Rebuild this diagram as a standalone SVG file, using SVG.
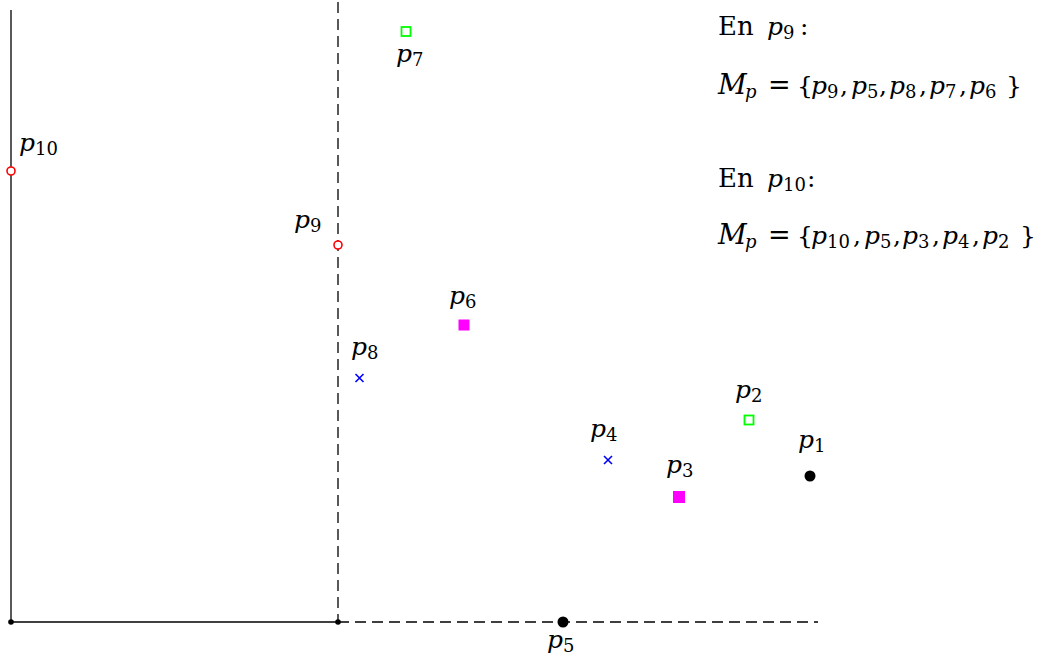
<svg xmlns="http://www.w3.org/2000/svg" width="1051" height="663" viewBox="0 0 1051 663">
<style>
.t{font-family:"DejaVu Serif","Liberation Serif",serif;font-size:25px;fill:#000}
.i{font-style:italic}
.s{font-size:18px;font-style:normal}
.si{font-size:18px;font-style:italic}
.m{font-size:28px;font-style:italic}
.eq{font-size:27px;font-style:normal}
.en{font-size:26px}
.solid{stroke:#000;stroke-width:1.3;fill:none}
.dash{stroke:#000;stroke-width:1.3;fill:none;stroke-dasharray:11 6}
.ro{fill:#fff;stroke:#f00;stroke-width:1.6}
.go{fill:none;stroke:#0f0;stroke-width:1.8}
.mg{fill:#f0f}
.bx{stroke:#00f;stroke-width:1.6}
</style>
<rect width="1051" height="663" fill="#fff"/>
<g id="connectors">
<line class="solid" x1="11" y1="10" x2="11" y2="622"/>
<line class="solid" x1="11" y1="622" x2="338" y2="622"/>
<line class="dash" x1="338" y1="622" x2="818" y2="622"/>
<line class="dash" x1="338" y1="2" x2="338" y2="622"/>
<circle cx="11" cy="622" r="2.8" fill="#000"/>
<circle cx="338" cy="622" r="2.8" fill="#000"/>
</g>
<g id="p10"><circle class="ro" cx="11" cy="171" r="4"/><text class="t i" x="19" y="151">p<tspan class="s" dy="4">10</tspan></text></g>
<g id="p9"><circle class="ro" cx="338" cy="245" r="4"/><text class="t i" x="294" y="228">p<tspan class="s" dy="4">9</tspan></text></g>
<g id="p7"><rect class="go" x="401.5" y="27" width="9" height="9"/><text class="t i" x="396" y="62">p<tspan class="s" dy="4">7</tspan></text></g>
<g id="p6"><rect class="mg" x="458.5" y="319.5" width="11" height="11"/><text class="t i" x="449" y="304">p<tspan class="s" dy="4">6</tspan></text></g>
<g id="p8"><path class="bx" d="M355.5 374L363.5 382M363.5 374L355.5 382"/><text class="t i" x="351" y="355">p<tspan class="s" dy="4">8</tspan></text></g>
<g id="p4"><path class="bx" d="M604 456L612 464M612 456L604 464"/><text class="t i" x="590" y="437">p<tspan class="s" dy="4">4</tspan></text></g>
<g id="p3"><rect class="mg" x="673" y="491" width="12" height="12"/><text class="t i" x="666" y="473">p<tspan class="s" dy="4">3</tspan></text></g>
<g id="p2"><rect class="go" x="744.5" y="415.5" width="9" height="9"/><text class="t i" x="735" y="398">p<tspan class="s" dy="4">2</tspan></text></g>
<g id="p1"><circle cx="810" cy="476" r="5.5" fill="#000"/><text class="t i" x="798" y="448">p<tspan class="s" dy="4">1</tspan></text></g>
<g id="p5"><circle cx="563" cy="622" r="5.5" fill="#000"/><text class="t i" x="547" y="648">p<tspan class="s" dy="4">5</tspan></text></g>
<g id="text1">
<text class="t" y="35"><tspan class="en" x="718">En</tspan><tspan class="i" x="767">p</tspan><tspan class="s" x="783" y="39">9</tspan><tspan x="800" y="35">:</tspan></text>
<text class="t" y="94"><tspan class="m" x="718">M</tspan><tspan class="si" x="745" y="98">p</tspan><tspan class="eq" x="768" y="94">=</tspan><tspan x="797" y="94">{</tspan><tspan class="i" x="811">p</tspan><tspan class="s" x="827" y="98">9</tspan><tspan x="840" y="94">,</tspan><tspan class="i" x="851">p</tspan><tspan class="s" x="867" y="98">5</tspan><tspan x="879" y="94">,</tspan><tspan class="i" x="889">p</tspan><tspan class="s" x="905" y="98">8</tspan><tspan x="919" y="94">,</tspan><tspan class="i" x="929">p</tspan><tspan class="s" x="945" y="98">7</tspan><tspan x="959" y="94">,</tspan><tspan class="i" x="969">p</tspan><tspan class="s" x="985" y="98">6</tspan><tspan x="1006" y="94">}</tspan></text>
</g>
<g id="text2">
<text class="t" y="187"><tspan class="en" x="718">En</tspan><tspan class="i" x="767">p</tspan><tspan class="s" x="783" y="191">10</tspan><tspan x="807" y="187">:</tspan></text>
<text class="t" y="244"><tspan class="m" x="718">M</tspan><tspan class="si" x="745" y="248">p</tspan><tspan class="eq" x="768" y="244">=</tspan><tspan x="797" y="244">{</tspan><tspan class="i" x="811">p</tspan><tspan class="s" x="827" y="248">10</tspan><tspan x="853" y="244">,</tspan><tspan class="i" x="864">p</tspan><tspan class="s" x="880" y="248">5</tspan><tspan x="893" y="244">,</tspan><tspan class="i" x="902">p</tspan><tspan class="s" x="918" y="248">3</tspan><tspan x="932" y="244">,</tspan><tspan class="i" x="942">p</tspan><tspan class="s" x="958" y="248">4</tspan><tspan x="972" y="244">,</tspan><tspan class="i" x="982">p</tspan><tspan class="s" x="998" y="248">2</tspan><tspan x="1020" y="244">}</tspan></text>
</g>
</svg>
